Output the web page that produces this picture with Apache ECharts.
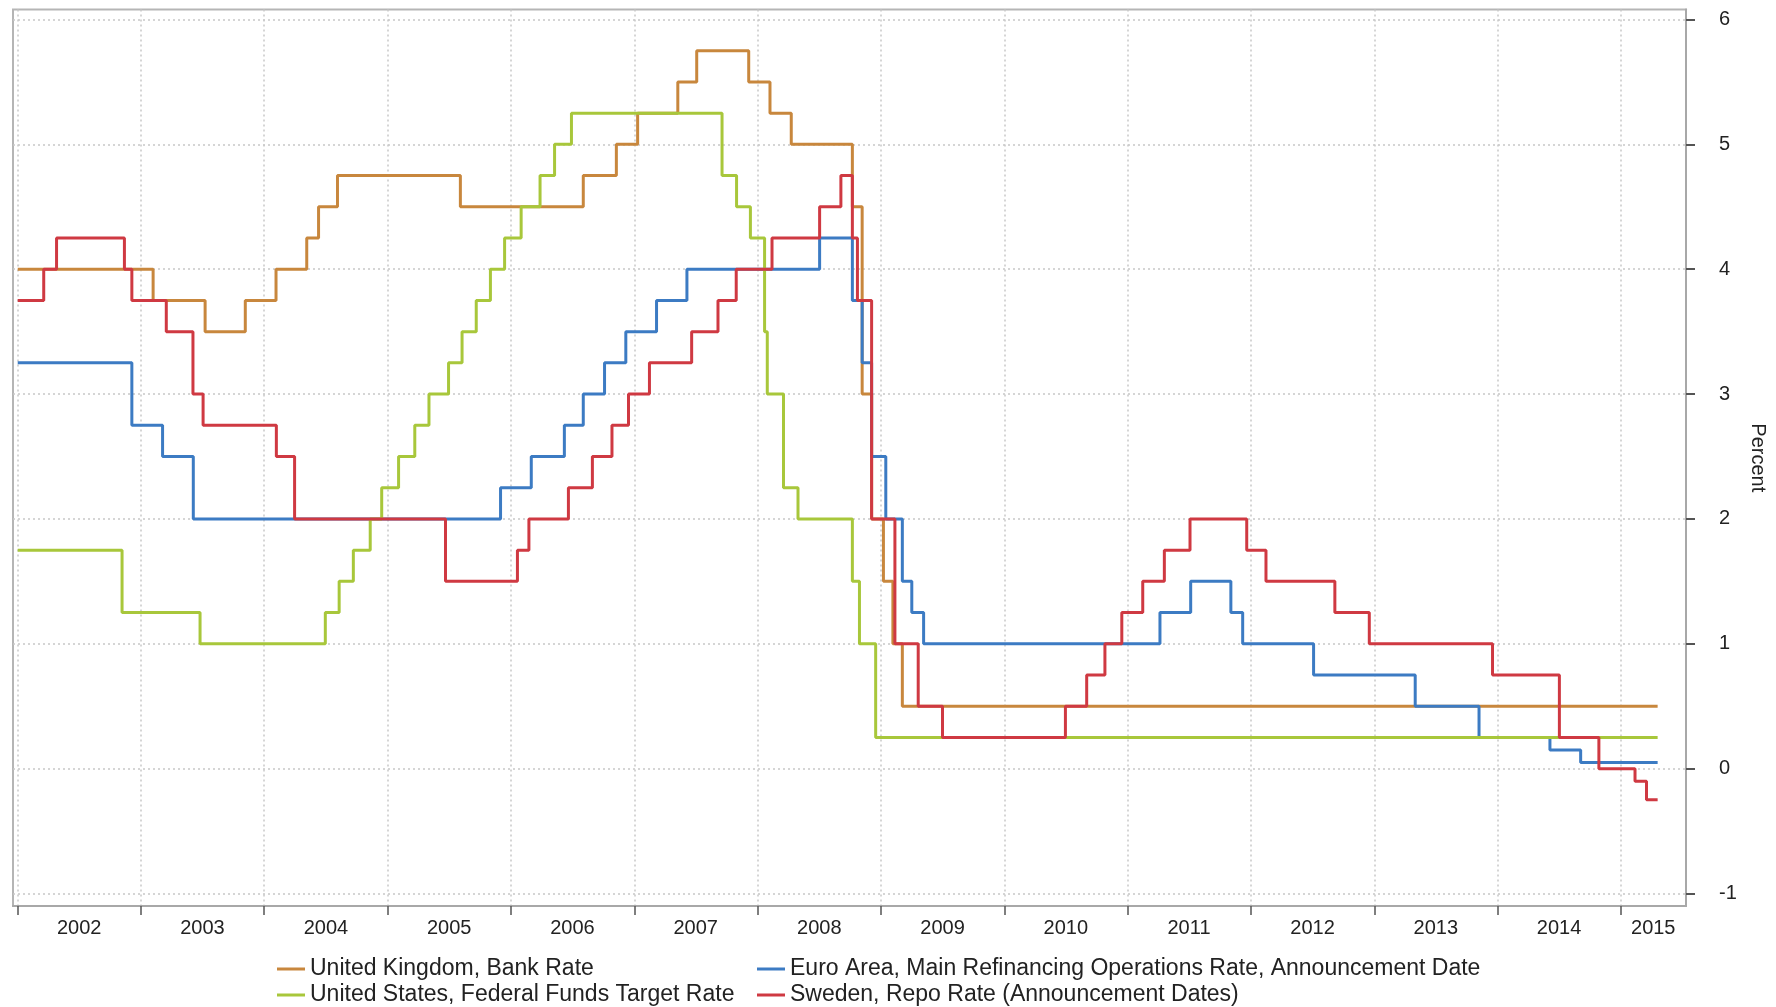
<!DOCTYPE html>
<html>
<head>
<meta charset="utf-8">
<title>Policy rates</title>
<script src="https://cdn.jsdelivr.net/npm/echarts@6/dist/echarts.min.js"></script>
<style>
  html, body { margin: 0; padding: 0; background: #fff; }
  #chart { width: 1776px; height: 1007px; }
</style>
</head>
<body>
<div id="chart"></div>
<script>
'use strict'

// policy rate changes: date the rate took effect, and the rate (percent)
const ukDates = ['2002-01-01', '2003-02-06', '2003-07-10', '2003-11-06', '2004-02-05', '2004-05-06', '2004-06-10', '2004-08-05', '2005-08-04', '2006-08-03', '2006-11-09', '2007-01-11', '2007-05-10', '2007-07-05', '2007-12-06', '2008-02-07', '2008-04-10', '2008-10-08', '2008-11-06', '2008-12-04', '2009-01-08', '2009-02-05', '2009-03-05', '2015-04-20']
const ukRates = [4.00, 3.75, 3.50, 3.75, 4.00, 4.25, 4.50, 4.75, 4.50, 4.75, 5.00, 5.25, 5.50, 5.75, 5.50, 5.25, 5.00, 4.50, 3.00, 2.00, 1.50, 1.00, 0.50, 0.50]

const euDates = ['2002-01-01', '2002-12-05', '2003-03-06', '2003-06-05', '2005-12-01', '2006-03-02', '2006-06-08', '2006-08-03', '2006-10-05', '2006-12-07', '2007-03-08', '2007-06-06', '2008-07-03', '2008-10-08', '2008-11-06', '2008-12-04', '2009-01-15', '2009-03-05', '2009-04-02', '2009-05-07', '2011-04-07', '2011-07-07', '2011-11-03', '2011-12-08', '2012-07-05', '2013-05-02', '2013-11-07', '2014-06-05', '2014-09-04', '2015-04-20']
const euRates = [3.25, 2.75, 2.50, 2.00, 2.25, 2.50, 2.75, 3.00, 3.25, 3.50, 3.75, 4.00, 4.25, 3.75, 3.25, 2.50, 2.00, 1.50, 1.25, 1.00, 1.25, 1.50, 1.25, 1.00, 0.75, 0.50, 0.25, 0.15, 0.05, 0.05]

const usDates = ['2002-01-01', '2002-11-06', '2003-06-25', '2004-06-30', '2004-08-10', '2004-09-21', '2004-11-10', '2004-12-14', '2005-02-02', '2005-03-22', '2005-05-03', '2005-06-30', '2005-08-09', '2005-09-20', '2005-11-01', '2005-12-13', '2006-01-31', '2006-03-28', '2006-05-10', '2006-06-29', '2007-09-18', '2007-10-31', '2007-12-11', '2008-01-22', '2008-01-30', '2008-03-18', '2008-04-30', '2008-10-08', '2008-10-29', '2008-12-16', '2015-04-20']
const usRates = [1.75, 1.25, 1.00, 1.25, 1.50, 1.75, 2.00, 2.25, 2.50, 2.75, 3.00, 3.25, 3.50, 3.75, 4.00, 4.25, 4.50, 4.75, 5.00, 5.25, 4.75, 4.50, 4.25, 3.50, 3.00, 2.25, 2.00, 1.50, 1.00, 0.25, 0.25]

const seDates = ['2002-01-01', '2002-03-19', '2002-04-26', '2002-11-13', '2002-12-05', '2003-03-17', '2003-06-04', '2003-07-04', '2004-02-06', '2004-03-31', '2005-06-21', '2006-01-20', '2006-02-23', '2006-06-20', '2006-08-30', '2006-10-27', '2006-12-15', '2007-02-15', '2007-06-20', '2007-09-06', '2007-10-30', '2008-02-13', '2008-07-03', '2008-09-04', '2008-10-08', '2008-10-23', '2008-12-04', '2009-02-11', '2009-04-21', '2009-07-02', '2010-07-01', '2010-09-02', '2010-10-26', '2010-12-15', '2011-02-15', '2011-04-20', '2011-07-05', '2011-12-20', '2012-02-15', '2012-09-06', '2012-12-17', '2013-12-17', '2014-07-03', '2014-10-28', '2015-02-12', '2015-03-18', '2015-04-20']
const seRates = [3.75, 4.00, 4.25, 4.00, 3.75, 3.50, 3.00, 2.75, 2.50, 2.00, 1.50, 1.75, 2.00, 2.25, 2.50, 2.75, 3.00, 3.25, 3.50, 3.75, 4.00, 4.25, 4.50, 4.75, 4.25, 3.75, 2.00, 1.00, 0.50, 0.25, 0.50, 0.75, 1.00, 1.25, 1.50, 1.75, 2.00, 1.75, 1.50, 1.25, 1.00, 0.75, 0.25, 0.00, -0.10, -0.25, -0.25]

const seriesNames = [
  'United Kingdom, Bank Rate',
  'Euro Area, Main Refinancing Operations Rate, Announcement Date',
  'United States, Federal Funds Target Rate',
  'Sweden, Repo Rate (Announcement Dates)'
]
const seriesColors = ['#C8873D', '#3C7BC3', '#A8C73B', '#CF3942']

// axis ticks / labels
const yearStarts = ['2002-01-01', '2003-01-01', '2004-01-01', '2005-01-01', '2006-01-01', '2007-01-01', '2008-01-01', '2009-01-01', '2010-01-01', '2011-01-01', '2012-01-01', '2013-01-01', '2014-01-01', '2015-01-01']
const yearLabelAt = ['2002-07-02', '2003-07-02', '2004-07-02', '2005-07-02', '2006-07-02', '2007-07-02', '2008-07-02', '2009-07-02', '2010-07-02', '2011-07-02', '2012-07-02', '2013-07-02', '2014-07-02', '2015-04-07']
const yTicks = [-1, 0, 1, 2, 3, 4, 5, 6]

const FONT = '"Liberation Sans", Arial, sans-serif'

// date string -> UTC timestamp
function ts(s) {
  const p = s.split('-').map(Number)
  return Date.UTC(p[0], p[1] - 1, p[2])
}

function zip(dates, vals) {
  return dates.map((d, i) => [ts(d), vals[i]])
}

const allData = [
  zip(ukDates, ukRates),
  zip(euDates, euRates),
  zip(usDates, usRates),
  zip(seDates, seRates)
]

const chart = echarts.init(document.getElementById('chart'), null, { renderer: 'canvas' })

const legendCommon = {
  orient: 'vertical',
  top: 957,
  icon: 'rect',
  itemWidth: 28,
  itemHeight: 3,
  itemGap: 2,
  textStyle: { fontFamily: FONT, fontSize: 23, color: '#222', lineHeight: 24 },
  padding: 0,
  selectedMode: false
}

const gridLine = { show: true, lineStyle: { color: '#c8c8c8', width: 1.5, type: [2, 3] } }

const option = {
  animation: false,
  backgroundColor: '#fff',
  color: seriesColors,
  grid: {
    left: 13, right: 90, top: 9.5, bottom: 101,
    show: true, borderColor: '#b5b5b5', borderWidth: 2, backgroundColor: '#fff'
  },
  legend: [
    Object.assign({}, legendCommon, { left: 277, data: [seriesNames[0], seriesNames[2]] }),
    Object.assign({}, legendCommon, { left: 757, data: [seriesNames[1], seriesNames[3]] })
  ],
  xAxis: {
    type: 'value',
    min: ts('2001-12-18'),
    max: ts('2015-07-13'),
    axisLine: { show: true, onZero: false, lineStyle: { color: '#a8a8a8', width: 2 } },
    axisTick: {
      show: true, length: 9, customValues: yearStarts.map(ts),
      lineStyle: { color: '#555', width: 1.5 }
    },
    axisLabel: {
      customValues: yearLabelAt.map(ts),
      margin: 12,
      fontFamily: FONT, fontSize: 20, color: '#222',
      formatter: v => String(new Date(v).getUTCFullYear())
    },
    splitLine: gridLine
  },
  yAxis: {
    type: 'value',
    position: 'right',
    min: -1.1,
    max: 6.08,
    name: 'Percent',
    nameLocation: 'middle',
    nameRotate: -90,
    nameGap: 55,
    nameTextStyle: { fontFamily: FONT, fontSize: 20, color: '#222' },
    axisLine: { show: true, lineStyle: { color: '#a8a8a8', width: 2 } },
    axisTick: {
      show: true, length: 9, customValues: yTicks,
      lineStyle: { color: '#555', width: 2 }
    },
    axisLabel: {
      customValues: yTicks,
      margin: 33,
      fontFamily: FONT, fontSize: 20, color: '#222'
    },
    splitLine: gridLine
  },
  series: allData.map((data, i) => ({
    name: seriesNames[i],
    type: 'line',
    step: 'end',
    symbol: 'none',
    data: data,
    lineStyle: { width: 3, color: seriesColors[i] },
    itemStyle: { color: seriesColors[i] },
    z: 2 + i
  }))
}

chart.setOption(option)
</script>
</body>
</html>
